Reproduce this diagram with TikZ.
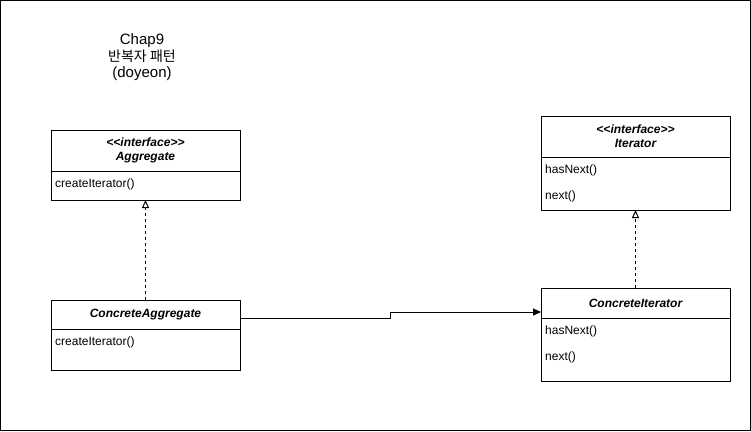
\documentclass[tikz,border=0pt]{standalone}
\usepackage{fontspec}
\setmainfont{Liberation Sans}
\newfontfamily\krfont{Noto Sans CJK KR}
\usetikzlibrary{positioning, arrows.meta}
\newcommand{\stereo}[1]{<\kern0pt<#1>\kern0pt>}

\begin{document}
\begin{tikzpicture}[x=1pt, y=-1pt,
    head/.style={draw, line width=1pt, outer sep=0pt, inner sep=0pt, minimum width=189pt, align=center, font=\fontsize{12}{14}\selectfont\bfseries\itshape},
    body/.style={draw, line width=1pt, outer sep=0pt, inner sep=0pt, minimum width=189pt},
    op/.style={anchor=west, inner sep=0pt, font=\fontsize{12}{14}\selectfont},
    realize/.style={line width=1pt, dash pattern=on 3pt off 3pt, -{Triangle[open, length=8pt, width=7pt]}},
    assoc/.style={line width=1pt, -{Triangle[length=8pt, width=7pt]}}]
            \useasboundingbox (0,0) rectangle (751,431);
            \draw[line width=1pt] (0.5,0.5) rectangle (750.5,430.5);

            \node[align=center, font=\fontsize{15}{16.5}\selectfont] (title) at (142,57.5) {Chap9\\{\krfont\fontsize{14}{16.5}\selectfont 반복자 패턴}\\(doyeon)};

            \node[head, minimum height=41pt] (aggh) at (145.5,150.5) {\stereo{interface}\\Aggregate};
            \node[body, minimum height=29pt, below=0pt of aggh] (aggb) {};
            \node[op] (aggcreate) at ([xshift=4pt, yshift=-13pt]aggb.north west) {createIterator()};

            \node[head, minimum height=41pt] (iterh) at (635.5,136.5) {\stereo{interface}\\Iterator};
            \node[body, minimum height=53pt, below=0pt of iterh] (iterb) {};
            \node[op] (iterhas) at ([xshift=4pt, yshift=-13pt]iterb.north west) {hasNext()};
            \node[op] (iternext) at ([xshift=4pt, yshift=-39pt]iterb.north west) {next()};

            \node[head, minimum height=29pt] (caggh) at (145.5,314.5) {ConcreteAggregate};
            \node[body, minimum height=41pt, below=0pt of caggh] (caggb) {};
            \node[op] (caggcreate) at ([xshift=4pt, yshift=-13pt]caggb.north west) {createIterator()};

            \node[head, minimum height=30pt] (citerh) at (635.5,303) {ConcreteIterator};
            \node[body, minimum height=63pt, below=0pt of citerh] (citerb) {};
            \node[op] (citerhas) at ([xshift=4pt, yshift=-13pt]citerb.north west) {hasNext()};
            \node[op] (citernext) at ([xshift=4pt, yshift=-39pt]citerb.north west) {next()};

            \path[realize] (caggh) edge (aggb);
            \path[realize] (citerh) edge (iterb);
            \draw[assoc] ([yshift=-3.5pt]caggh.east) -- ++(150,0) |- ([yshift=-9pt]citerh.west);
        \end{tikzpicture}
\end{document}
